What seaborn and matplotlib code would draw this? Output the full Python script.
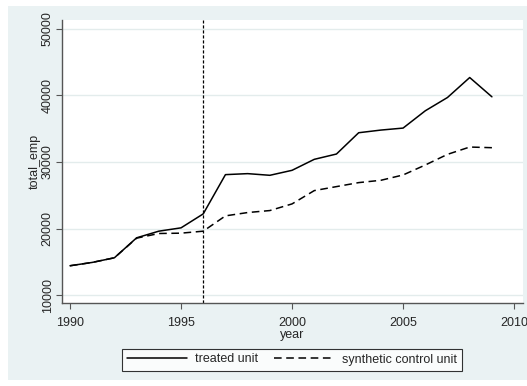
import numpy as np
import pandas as pd
import matplotlib
matplotlib.use("Agg")
import matplotlib.pyplot as plt
import seaborn as sns
from matplotlib.patches import Rectangle

# -----------------------------
# DATA
# -----------------------------
years = list(range(1990, 2010))
treated = [14400, 14900, 15600, 18600, 19600, 20100, 22200, 28100, 28250, 28000,
           28750, 30400, 31200, 34400, 34800, 35100, 37700, 39700, 42700, 39800]
synthetic = [14400, 14900, 15600, 18550, 19250, 19300, 19600, 21900, 22400, 22700,
             23700, 25700, 26300, 26900, 27250, 28050, 29550, 31150, 32250, 32150]
treatment_year = 1996
x_ticks = [1990, 1995, 2000, 2005, 2010]
y_ticks = [10000, 20000, 30000, 40000, 50000]
labels = ["treated unit", "synthetic control unit"]

df = pd.DataFrame({
    "year": years * 2,
    "total_emp": treated + synthetic,
    "unit": [labels[0]] * len(years) + [labels[1]] * len(years),
})

# -----------------------------
# STYLE
# -----------------------------
sns.set_style("white")
plt.rcParams["font.family"] = ["Liberation Sans", "DejaVu Sans"]
bg = "#EAF2F3"

fig = plt.figure(figsize=(5.27, 3.86), dpi=100, facecolor="white")
fig.patches.append(Rectangle((8 / 527, 1 - 380 / 386), 1 - 8 / 527, (380 - 6) / 386,
                             transform=fig.transFigure, facecolor=bg,
                             edgecolor="none", zorder=-10))
ax = fig.add_axes([62 / 527, 1 - 303 / 386, (523 - 62) / 527, (303 - 20) / 386])
ax.set_zorder(1)
ax.set_facecolor("white")

sns.lineplot(data=df, x="year", y="total_emp", style="unit",
             dashes={labels[0]: "", labels[1]: (5, 3)},
             color="black", linewidth=1.1, ax=ax, legend=False)
ax.axvline(treatment_year, color="black", linewidth=0.9, linestyle=(0, (2.5, 1.5)))

ax.set_xlim(1989.64, 2010.4)
ax.set_ylim(8800, 51350)
ax.set_xticks(x_ticks)
ax.set_yticks(y_ticks)
ax.set_yticklabels([str(v) for v in y_ticks], rotation=90, va="center")
ax.grid(axis="y", color="#E3ECEC", linewidth=1)
ax.set_axisbelow(True)

for side in ["top", "right"]:
    ax.spines[side].set_visible(False)
for side in ["left", "bottom"]:
    ax.spines[side].set_color("#555555")
    ax.spines[side].set_linewidth(1.0)
ax.tick_params(axis="both", direction="out", length=4, width=0.8, color="#555555",
               labelsize=9, pad=2, left=True, bottom=True)
ax.tick_params(axis="x", pad=6)

ax.set_xlabel("year", fontsize=9, labelpad=0)
ax.set_ylabel("total_emp", fontsize=9, labelpad=1)

handles = [plt.Line2D([], [], color="black", linewidth=1.1),
           plt.Line2D([], [], color="black", linewidth=1.1, linestyle=(0, (5, 3)))]
leg = fig.legend(handles, labels, loc="center", bbox_to_anchor=(292 / 527, 1 - 359.5 / 386),
                 ncol=2, frameon=True, fancybox=False, fontsize=9, handlelength=4.8,
                 columnspacing=1.2, borderpad=0.4, handletextpad=0.7)
leg.get_frame().set_edgecolor("black")
leg.get_frame().set_linewidth(0.8)

fig.savefig("out.png", dpi=100, facecolor="white")
